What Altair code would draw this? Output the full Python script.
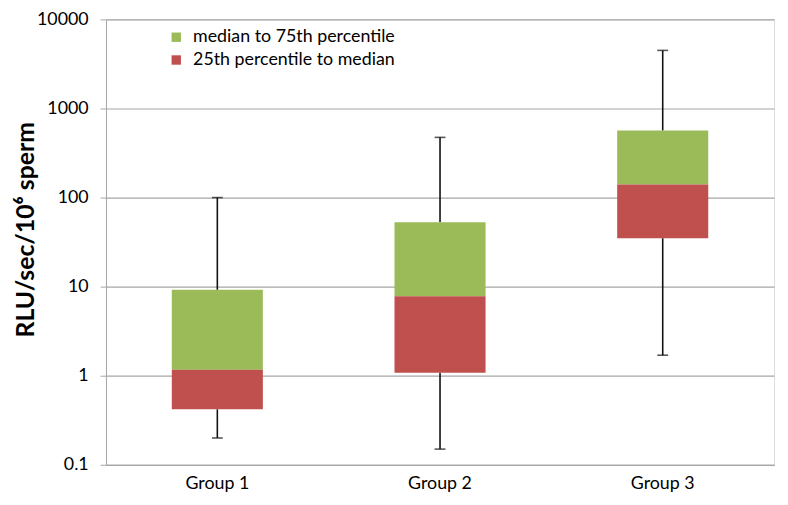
import altair as alt
import pandas as pd

groups = ["Group 1", "Group 2", "Group 3"]
whisker_low = [0.20, 0.15, 1.7]
q1 = [0.42, 1.08, 35]
median = [1.17, 7.8, 140]
q3 = [9.2, 53, 565]
whisker_high = [100, 474, 4490]

series_names = ["median to 75th percentile", "25th percentile to median"]
series_colors = ["#9BBB59", "#C0504D"]
y_ticks = [0.1, 1, 10, 100, 1000, 10000]

rows = []
for i, g in enumerate(groups):
    rows.append({"group": g, "series": series_names[0], "lo": median[i], "hi": q3[i]})
    rows.append({"group": g, "series": series_names[1], "lo": q1[i], "hi": median[i]})
boxes = pd.DataFrame(rows)
whisk = pd.DataFrame({"group": groups, "lo": whisker_low, "hi": whisker_high})
wrows = []
for i, g in enumerate(groups):
    wrows.append({"group": g, "a": whisker_low[i], "b": q1[i]})
    wrows.append({"group": g, "a": q3[i], "b": whisker_high[i]})
wseg = pd.DataFrame(wrows)

FONT = "Lato"

x_enc = alt.X("group:N", sort=groups, title=None,
              scale=alt.Scale(paddingInner=0, paddingOuter=0),
              axis=alt.Axis(labelAngle=0, ticks=False, labelFontSize=18, labelColor="#000",
                            labelPadding=10, domainColor="#A6A6A6", grid=False, labelFont=FONT))
y_scale = alt.Scale(type="log", domain=[0.1, 10000])
y_axis = alt.Axis(values=y_ticks, format="~g", title="RLU/sec/10⁶ sperm",
                  titleFontSize=25, titleFontWeight="bold", titleFont=FONT, titleColor="#000",
                  titleAngle=270, titleBaseline="middle", titleX=-81, titleY=212,
                  labelFontSize=18, labelColor="#000", labelFont=FONT, labelPadding=12,
                  tickSize=6, tickColor="#A6A6A6", domainColor="#A6A6A6",
                  gridColor="#A6A6A6", gridWidth=1.2)

rule = alt.Chart(wseg).mark_rule(color="#111", strokeWidth=1.6).encode(
    x=x_enc,
    y=alt.Y("a:Q", scale=y_scale, axis=y_axis),
    y2="b:Q",
)
cap_hi = alt.Chart(whisk).mark_tick(color="#111", size=11, thickness=1.6, orient="horizontal").encode(
    x=x_enc, y=alt.Y("hi:Q", scale=y_scale))
cap_lo = alt.Chart(whisk).mark_tick(color="#111", size=11, thickness=1.6, orient="horizontal").encode(
    x=x_enc, y=alt.Y("lo:Q", scale=y_scale))

bars = alt.Chart(boxes).mark_bar(size=92).encode(
    x=x_enc,
    y=alt.Y("lo:Q", scale=y_scale),
    y2="hi:Q",
    color=alt.Color("series:N",
                    scale=alt.Scale(domain=series_names, range=series_colors),
                    legend=alt.Legend(title=None, orient="none", legendX=62, legendY=9,
                                      symbolType="square", symbolSize=90, symbolStrokeWidth=0,
                                      labelFontSize=18, labelFont=FONT, labelColor="#000",
                                      labelLimit=0, rowPadding=5, labelOffset=8)),
)

chart = alt.layer(rule, cap_hi, cap_lo, bars).properties(
    width=675, height=450,
    autosize=alt.AutoSizeParams(type="none"),
    padding={"left": 99, "top": 9, "right": 6, "bottom": 30},
).configure_view(stroke=None).configure(background="white")

chart.save("out.html", embed_options={"renderer": "svg", "actions": False})
